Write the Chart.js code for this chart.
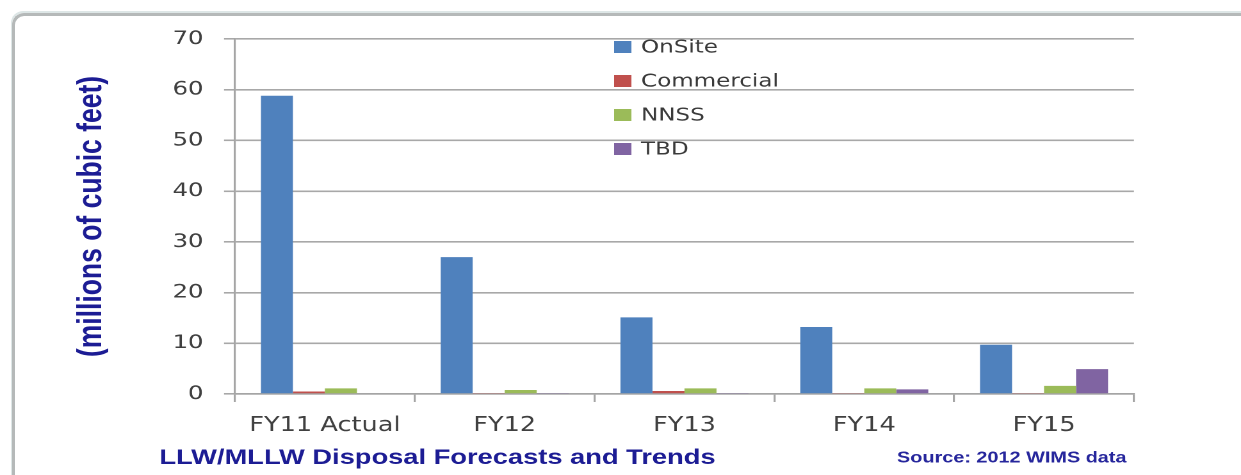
<!DOCTYPE html>
<html><head><meta charset="utf-8">
<script src="https://cdn.jsdelivr.net/npm/chart.js@4"></script>
<style>
html,body{margin:0;padding:0;background:#fff;overflow:hidden;width:1241px;height:475px;}
#frame{position:absolute;left:12px;top:13px;width:1240px;height:470px;border-left:3px solid #b5b9b9;border-top:3px solid #b5b9b9;border-top-left-radius:12px;box-shadow:-1px -2px 0 #dde6e6;}
#wrap{position:absolute;left:0;top:0;width:969px;height:475px;transform:scaleX(1.2807);transform-origin:0 0;}
</style></head><body>
<div id="frame"></div>
<div id="wrap"><canvas id="c" width="969" height="475"></canvas></div>
<script>
const categories = ["FY11 Actual", "FY12", "FY13", "FY14", "FY15"];
const onSite = [58.8, 27.0, 15.1, 13.2, 9.7];
const commercial = [0.5, 0.1, 0.6, 0.1, 0.1];
const nnss = [1.1, 0.8, 1.1, 1.1, 1.6];
const tbd = [0, 0.1, 0.2, 0.9, 4.9];
const seriesNames = ["OnSite", "Commercial", "NNSS", "TBD"];
const yTicks = [0, 10, 20, 30, 40, 50, 60, 70];
const yTitle = "(millions of cubic feet)";
const chartTitle = "LLW/MLLW Disposal Forecasts and Trends";
const sourceText = "Source: 2012 WIMS data";

const colors = ["#4f81bd", "#c0504d", "#9bbb59", "#8064a2"];
const seriesValues = [onSite, commercial, nnss, tbd];

const overlay = {
  id: 'overlay',
  afterDraw(chart) {
    const ctx = chart.ctx;
    ctx.save();
    // legend
    ctx.font = '18px "DejaVu Sans"';
    ctx.textBaseline = 'middle';
    ctx.textAlign = 'left';
    const rows = [47, 81, 115, 149];
    chart.data.datasets.forEach((ds, i) => {
      ctx.fillStyle = ds.backgroundColor;
      ctx.fillRect(479.5, rows[i] - 6, 13.5, 12);
      ctx.fillStyle = '#3a3a3a';
      ctx.fillText(ds.label, 500.5, rows[i] + 1);
    });
    // bottom texts
    ctx.fillStyle = '#1c1c94';
    ctx.font = 'bold 21.3px "Liberation Sans"';
    ctx.textAlign = 'center';
    ctx.fillText(chartTitle, 341.6, 458);
    ctx.fillStyle = '#26269c';
    ctx.font = 'bold 15.5px "Liberation Sans"';
    ctx.fillText(sourceText, 790, 458);
    ctx.restore();
  }
};

new Chart(document.getElementById('c'), {
  type: 'bar',
  data: {
    labels: categories,
    datasets: seriesNames.map((n, i) => ({
      label: n,
      data: seriesValues[i],
      backgroundColor: colors[i],
      borderWidth: 0,
      categoryPercentage: 0.712,
      barPercentage: 1.0
    }))
  },
  options: {
    responsive: false,
    animation: false,
    devicePixelRatio: 2,
    layout: { padding: { left: 0, top: 39, right: 83.6, bottom: 0 } },
    plugins: { legend: { display: false }, tooltip: { enabled: false }, title: { display: false } },
    scales: {
      x: {
        grid: { offset: true, drawOnChartArea: false, drawTicks: true, tickLength: 8, color: '#a5a5a5', lineWidth: 1.6 },
        border: { color: '#a5a5a5', width: 1.6 },
        ticks: { font: { family: 'DejaVu Sans', size: 20 }, color: '#404040', padding: 12, maxRotation: 0 },
        afterFit(scale) { scale.height = 81; }
      },
      y: {
        min: 0, max: 70,
        afterBuildTicks(scale) { scale.ticks = yTicks.map(v => ({ value: v })); },
        grid: { color: '#a8a8a8', lineWidth: 1.6, tickLength: 8.6 },
        border: { color: '#a5a5a5', width: 1.6 },
        ticks: { font: { family: 'DejaVu Sans', size: 19 }, color: '#404040', padding: 16 },
        title: { display: true, text: yTitle, color: '#1c1c94', font: { family: 'Liberation Sans', size: 26.5, weight: 'bold' }, padding: { top: 56, bottom: 0 } },
        afterFit(scale) { scale.width = 183.5; }
      }
    }
  },
  plugins: [overlay]
});
</script>
</body></html>
